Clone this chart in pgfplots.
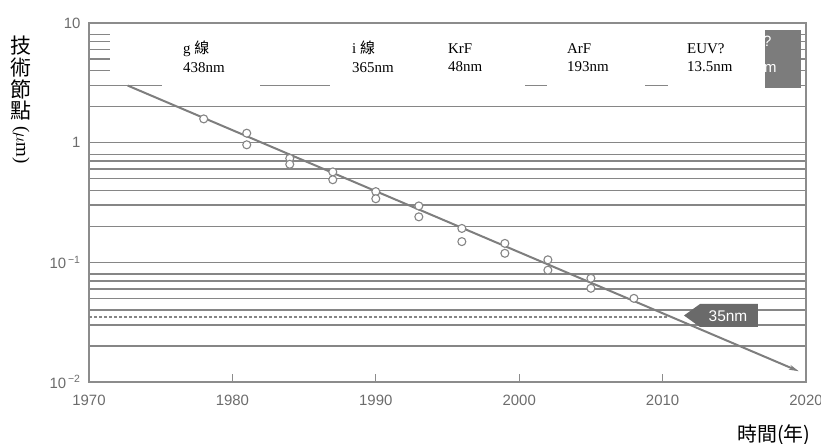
\documentclass[border=0pt]{standalone}
\usepackage{fontspec}
\setmainfont{Liberation Serif}
\newfontfamily\sans{Liberation Sans}
\newfontfamily\cjk{Noto Sans CJK TC}
\usepackage{pgfplots}
\pgfplotsset{compat=1.18}
\usetikzlibrary{arrows.meta}
\definecolor{gridc}{HTML}{868686}
\definecolor{framec}{HTML}{8C8C8C}
\definecolor{trendc}{HTML}{7E7E7E}
\definecolor{markc}{HTML}{858585}
\definecolor{tickc}{HTML}{6C6C6C}
\definecolor{boxgray}{HTML}{7C7C7C}
\definecolor{taggray}{HTML}{6A6A6A}

\begin{document}
\begin{tikzpicture}
\begin{axis}[
  scale only axis,
  width=717bp, height=359bp,
  xmin=1970, xmax=2020,
  ymode=log, ymin=0.01, ymax=10,
  xtick={1970,1980,1990,2000,2010,2020},
  xticklabels={1970,1980,1990,2000,2010,2020},
  ytick={0.01,0.1,1,10},
  yticklabels={10\textsuperscript{\,−2},10\textsuperscript{\,−1},1,10},
  minor ytick={0.02,0.03,0.04,0.05,0.06,0.07,0.08,
               0.2,0.3,0.4,0.5,0.6,0.7,0.8,
               2,3,4,5,6,7,8},
  ymajorgrids, yminorgrids,
  major grid style={gridc, line width=1.5bp},
  minor grid style={gridc, line width=1.5bp},
  axis line style={framec, line width=1.5bp},
  xtick pos=left,
  tick align=inside,
  major tick length=8bp,
  minor tick length=0pt,
  xtick style={framec, line width=1.2bp},
  ytick style={draw=none},
  xticklabel style={font=\sans\fontsize{15}{15}\selectfont, text=tickc, yshift=-10bp},
  yticklabel style={font=\sans\fontsize{15}{15}\selectfont, text=tickc, xshift=-5bp},
]
% 35 nm level
\addplot[gridc, line width=1.5bp, dash pattern=on 2.5bp off 2.5bp] coordinates {(1970,0.035) (2010.4,0.035)};
% trend: x0.7 every 3 years
\addplot[trendc, line width=2bp, -{Stealth[length=10bp,width=5bp]}]
  coordinates {(1972.7,3.0) (2019.5,0.0123)};
% production nodes
\addplot[only marks, mark=*, mark size=4bp,
  mark options={fill=white, draw=markc, line width=1.1bp}] coordinates {
  (1978,1.58)
  (1981,1.20) (1981,0.96)
  (1984,0.74) (1984,0.66)
  (1987,0.57) (1987,0.49)
  (1990,0.39) (1990,0.34)
  (1993,0.296) (1993,0.24)
  (1996,0.192) (1996,0.149)
  (1999,0.144) (1999,0.119)
  (2002,0.105) (2002,0.086)
  (2005,0.0736) (2005,0.0607)
  (2008,0.050)
};
\end{axis}

% annotations, in pixel coordinates of the reference
\begin{scope}[shift={(-89bp,382bp)}, x=1bp, y=-1bp]
  \fill[boxgray] (765,30) rectangle (801,88);
  \node[anchor=base west, inner sep=0, text=white, font=\sans\fontsize{15}{15}\selectfont] at (763,47) {?};
  \node[anchor=base west, inner sep=0, text=white, font=\sans\fontsize{15}{15}\selectfont] at (764,73) {m};
  \fill[white] (110,26) rectangle (765,84);
  \fill[white] (162,26) rectangle (260,89);
  \fill[white] (330,26) rectangle (525,89);
  \fill[white] (547,26) rectangle (645,89);
  \fill[white] (668,26) rectangle (765,89);
  \begin{scope}[every node/.style={anchor=base west, inner sep=0, font=\fontsize{15}{15}\selectfont}]
    \node at (183,54) {g {\cjk 線}};
    \node at (183,72.5) {438nm};
    \node at (352,54) {i {\cjk 線}};
    \node at (352,72.5) {365nm};
    \node at (448,53.5) {KrF};
    \node at (448,72) {48nm};
    \node at (567,53.5) {ArF};
    \node at (567,72) {193nm};
    \node at (687,53.5) {EUV?};
    \node at (687,72) {13.5nm};
  \end{scope}
  % 35nm tag
  \fill[taggray] (684,315.5) -- (700,304) -- (758,304) -- (758,327) -- (700,327) -- cycle;
  \node[text=white, inner sep=0, font=\sans\fontsize{15.5}{15.5}\selectfont] at (728,316) {35nm};
  % axis titles
  \node[anchor=north, inner sep=0, align=center, font=\cjk\fontsize{21}{21.7}\selectfont] at (21,36) {技\\術\\節\\點};
  \node[anchor=west, rotate=-90, inner sep=0, font=\fontsize{19}{19}\selectfont] at (21,126) {($\mu$m)};
  \node[inner sep=0, font=\cjk\fontsize{20}{20}\selectfont] at (774,435) {時間(年)};
\end{scope}

\pgfresetboundingbox
\path (-89bp,-62bp) rectangle (732bp,382bp);
\end{tikzpicture}
\end{document}
